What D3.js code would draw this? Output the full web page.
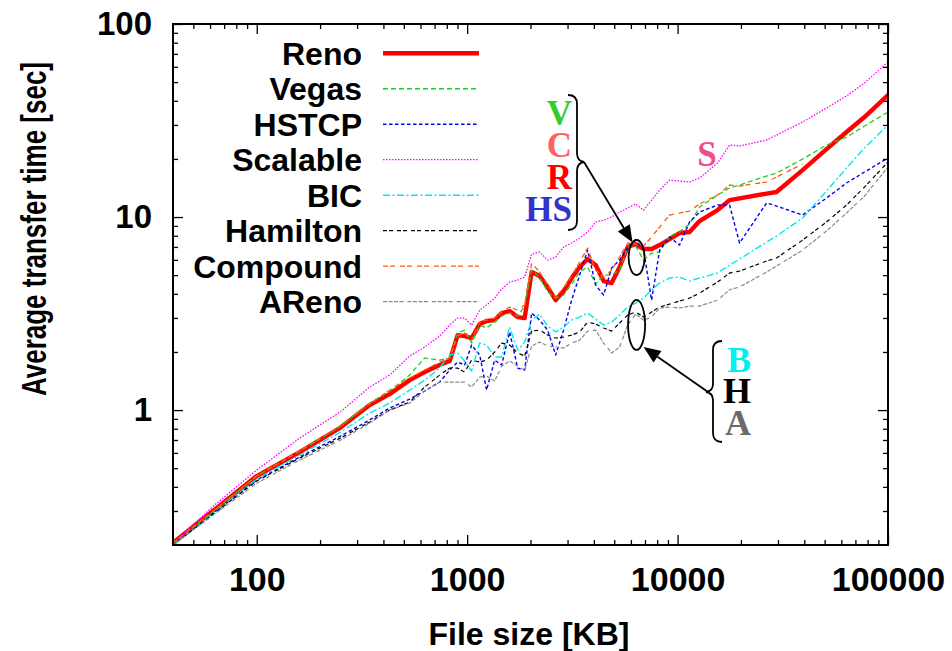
<!DOCTYPE html>
<html>
<head>
<meta charset="utf-8">
<script src="https://cdn.jsdelivr.net/npm/d3@7"></script>
<style>
  html, body { margin: 0; padding: 0; background: #fff; }
  svg { display: block; font-family: "Liberation Sans", Arial, Helvetica, sans-serif; }
</style>
</head>
<body>
<svg id="chart" width="952" height="651"></svg>
<script>
// File sizes (KB) at which the average transfer time was measured
const fileSizes = [40, 63, 100, 160, 250, 344, 428, 533, 628, 740,
  826, 901, 973, 1050, 1147, 1237, 1351, 1458, 1592, 1738,
  1876, 2025, 2210, 2413, 2634, 2874, 3137, 3424, 3737, 4078,
  4452, 4860, 5304, 5789, 6318, 6896, 7527, 8215, 9162, 10220,
  11400, 12720, 15490, 17660, 19700, 26480, 29530, 39260, 51040, 63520,
  77330, 100000];

// Average transfer time (sec) per TCP variant
const reno = [0.205, 0.305, 0.455, 0.606, 0.812, 1.061, 1.21, 1.43, 1.573, 1.711,
  1.794, 2.447, 2.417, 2.361, 2.79, 2.892, 2.925, 3.182, 3.258, 3.033,
  2.997, 5.19, 4.95, 4.338, 3.713, 4.136, 4.831, 5.508, 6.059, 5.641,
  4.66, 4.55, 5.508, 6.993, 7.247, 6.827, 6.827, 7.161, 7.691, 8.264,
  8.363, 9.535, 10.87, 12.24, 12.5, 13.22, 13.48, 17.51, 22.5, 27.56,
  32.97, 42.87];
const vegas = [0.205, 0.303, 0.455, 0.613, 0.826, 1.087, 1.254, 1.518, 1.86, 1.815,
  1.86, 2.506, 2.596, 2.224, 2.757, 2.66, 2.858, 3.069, 3.182, 3.069,
  3.458, 5.311, 4.888, 4.087, 3.804, 3.944, 4.496, 5.188, 5.508, 4.496,
  5.007, 5.007, 5.311, 6.993, 7.074, 5.984, 6.509, 6.587, 7.971, 8.363,
  9.199, 11.27, 13.0, 14.14, 14.65, 16.31, 16.9, 19.97, 23.61, 25.97,
  29.61, 34.99];
const hstcp = [0.2, 0.296, 0.434, 0.571, 0.733, 0.888, 1.024, 1.14, 1.254, 1.397,
  1.611, 1.773, 1.711, 2.172, 1.928, 1.269, 1.815, 1.711, 2.536, 1.65,
  1.611, 3.182, 2.925, 2.596, 1.928, 2.596, 3.713, 5.007, 6.742, 4.444,
  3.944, 5.443, 5.984, 6.909, 7.596, 6.742, 3.713, 6.742, 7.877, 7.161,
  9.421, 10.61, 11.54, 11.54, 7.334, 11.82, 11.4, 10.24, 12.54, 15.01,
  17.11, 20.22];
const scalable = [0.205, 0.322, 0.489, 0.716, 0.98, 1.316, 1.518, 1.905, 2.121, 2.417,
  2.757, 2.997, 2.997, 2.757, 3.296, 3.5, 3.804, 4.236, 4.605, 4.714,
  4.888, 6.432, 6.587, 5.984, 6.205, 6.993, 7.334, 7.783, 8.363, 9.421,
  9.643, 10.0, 10.61, 11.13, 11.68, 10.86, 12.24, 13.79, 15.54, 15.37,
  15.18, 15.93, 19.05, 23.61, 23.33, 25.04, 26.6, 31.06, 36.71, 42.37,
  49.46, 63.55];
const bic = [0.2, 0.296, 0.439, 0.584, 0.769, 0.965, 1.087, 1.269, 1.43, 1.65,
  1.928, 1.974, 1.794, 1.592, 2.224, 2.172, 1.882, 1.882, 2.692, 2.045,
  2.25, 2.925, 3.145, 2.724, 2.536, 2.692, 2.925, 3.033, 3.182, 2.961,
  2.757, 2.858, 3.106, 3.418, 3.584, 3.804, 4.184, 4.55, 4.831, 4.888,
  4.66, 4.831, 5.127, 5.641, 6.059, 7.422, 7.971, 9.881, 13.64, 17.94,
  22.79, 29.97];
const hamilton = [0.2, 0.293, 0.429, 0.564, 0.716, 0.867, 1.0, 1.1, 1.316, 1.518,
  1.65, 1.65, 1.573, 1.815, 1.773, 1.815, 1.998, 2.224, 2.172, 1.974,
  1.905, 2.566, 2.596, 2.447, 2.361, 2.389, 2.447, 2.536, 2.858, 2.79,
  2.66, 2.566, 2.824, 3.106, 3.22, 3.033, 3.22, 3.418, 3.541, 3.671,
  3.804, 4.038, 4.605, 5.127, 5.251, 5.916, 6.132, 7.596, 9.421, 11.54,
  14.3, 19.28];
const compound = [0.205, 0.303, 0.455, 0.613, 0.826, 1.074, 1.269, 1.465, 1.611, 1.773,
  1.86, 2.417, 2.506, 2.304, 2.858, 2.925, 2.997, 3.22, 3.418, 3.296,
  3.5, 5.776, 5.188, 4.444, 3.85, 4.287, 4.947, 5.846, 6.909, 5.311,
  4.888, 5.311, 6.205, 7.334, 7.247, 7.074, 7.877, 8.876, 10.24, 10.49,
  10.74, 11.68, 13.0, 14.65, 14.47, 15.18, 16.12, 18.82, null, null,
  null, null];
const areno = [0.2, 0.289, 0.418, 0.551, 0.699, 0.856, 1.0, 1.087, 1.254, 1.397,
  1.397, 1.397, 1.397, 1.316, 1.483, 1.501, 1.413, 1.69, 1.794, 1.69,
  1.611, 2.146, 2.25, 2.146, 2.121, 2.096, 2.224, 2.304, 2.566, 2.596,
  2.224, 1.974, 2.121, 2.757, 3.145, 2.925, 3.033, 3.378, 3.418, 3.378,
  3.458, 3.458, 3.71, 4.2, 4.34, 5.188, 5.574, 6.742, 8.463, 10.49,
  12.85, 18.16];

const seriesNames = ["Reno", "Vegas", "HSTCP", "Scalable", "BIC", "Hamilton", "Compound", "AReno"];
const seriesValues = [reno, vegas, hstcp, scalable, bic, hamilton, compound, areno];

// Axis ticks
const xMajor = [100, 1000, 10000, 100000];
const xTickLabels = ["100", "1000", "10000", "100000"];
const yMajor = [1, 10, 100];
const yTickLabels = ["1", "10", "100"];

// ---- styling ----
const styles = {
  Reno:     { color: "#ff0000", width: 4.4, dash: null },
  Vegas:    { color: "#22cc22", width: 1.3, dash: "5,3" },
  HSTCP:    { color: "#0000f0", width: 1.4, dash: "3.5,2.5" },
  Scalable: { color: "#ff00ff", width: 1.3, dash: "1.5,1.5" },
  BIC:      { color: "#00eaea", width: 1.4, dash: "7,2.5,2,2.5" },
  Hamilton: { color: "#000000", width: 1.2, dash: "4,2,4,4" },
  Compound: { color: "#ff5a10", width: 1.3, dash: "5,2,5,5" },
  AReno:    { color: "#8a8a8a", width: 1.2, dash: "4,1.5,4,1.5,4,1.5,4,4" }
};

const plot = { left: 173, right: 888, top: 24, bottom: 545 };
const svg = d3.select("#chart");

const x = d3.scaleLog().domain([40, 100000]).range([plot.left, plot.right]);
const y = d3.scaleLog().domain([0.2, 100]).range([plot.bottom, plot.top]);

// minor tick positions: 2..9 times every power of ten inside the domain
function minorTicks(scale) {
  const [lo, hi] = scale.domain();
  const out = [];
  for (let p = Math.floor(Math.log10(lo)); p <= Math.ceil(Math.log10(hi)); p++) {
    for (let m = 2; m <= 9; m++) {
      const v = m * Math.pow(10, p);
      if (v > lo * 1.0001 && v < hi * 0.9999) out.push(v);
    }
  }
  return out;
}
const xMinor = minorTicks(x);
const yMinor = minorTicks(y);

svg.append("defs").append("clipPath").attr("id", "plotClip")
  .append("rect")
  .attr("x", plot.left).attr("y", plot.top)
  .attr("width", plot.right - plot.left).attr("height", plot.bottom - plot.top);

// ---- axes (ticks on all four sides, pointing inward) ----
function styleAxis(size) {
  return g => {
    g.select(".domain").remove();
    g.selectAll(".tick line").attr("stroke", "#000").attr("stroke-width", 1.3);
    g.selectAll(".tick text").attr("fill", "#000").attr("font-size", size)
      .attr("font-weight", "bold")
      .attr("font-family", "'Liberation Sans', Arial, sans-serif");
  };
}

svg.append("g").attr("transform", `translate(0,${plot.bottom})`)
  .call(d3.axisBottom(x).tickValues(xMajor).tickFormat((d, i) => xTickLabels[i])
    .tickSizeInner(-10).tickSizeOuter(0).tickPadding(22))
  .call(styleAxis(34));
svg.append("g").attr("transform", `translate(0,${plot.bottom})`)
  .call(d3.axisBottom(x).tickValues(xMinor).tickFormat("").tickSizeInner(-5).tickSizeOuter(0))
  .call(styleAxis(34));
svg.append("g").attr("transform", `translate(0,${plot.top})`)
  .call(d3.axisTop(x).tickValues(xMajor).tickFormat("").tickSizeInner(-10).tickSizeOuter(0))
  .call(styleAxis(34));
svg.append("g").attr("transform", `translate(0,${plot.top})`)
  .call(d3.axisTop(x).tickValues(xMinor).tickFormat("").tickSizeInner(-5).tickSizeOuter(0))
  .call(styleAxis(34));

svg.append("g").attr("transform", `translate(${plot.left},0)`)
  .call(d3.axisLeft(y).tickValues(yMajor).tickFormat((d, i) => yTickLabels[i])
    .tickSizeInner(-10).tickSizeOuter(0).tickPadding(21))
  .call(styleAxis(33));
svg.append("g").attr("transform", `translate(${plot.left},0)`)
  .call(d3.axisLeft(y).tickValues(yMinor).tickFormat("").tickSizeInner(-5).tickSizeOuter(0))
  .call(styleAxis(33));
svg.append("g").attr("transform", `translate(${plot.right},0)`)
  .call(d3.axisRight(y).tickValues(yMajor).tickFormat("").tickSizeInner(-10).tickSizeOuter(0))
  .call(styleAxis(33));
svg.append("g").attr("transform", `translate(${plot.right},0)`)
  .call(d3.axisRight(y).tickValues(yMinor).tickFormat("").tickSizeInner(-5).tickSizeOuter(0))
  .call(styleAxis(33));

// ---- data lines ----
const line = d3.line()
  .defined(d => d[1] != null)
  .x(d => x(d[0]))
  .y(d => y(d[1]));

const lines = svg.append("g").attr("clip-path", "url(#plotClip)");
seriesNames.forEach((name, i) => {
  const st = styles[name];
  lines.append("path")
    .datum(fileSizes.map((f, j) => [f, seriesValues[i][j]]))
    .attr("d", line)
    .attr("fill", "none")
    .attr("stroke", st.color)
    .attr("stroke-width", st.width)
    .attr("stroke-dasharray", st.dash)
    .attr("stroke-linejoin", "round")
    .attr("stroke-linecap", name === "Reno" ? "round" : "butt");
});

// frame
svg.append("rect")
  .attr("x", plot.left).attr("y", plot.top)
  .attr("width", plot.right - plot.left).attr("height", plot.bottom - plot.top)
  .attr("fill", "none").attr("stroke", "#000").attr("stroke-width", 2);

// ---- legend ----
const legend = svg.append("g");
seriesNames.forEach((name, i) => {
  const st = styles[name];
  const base = 65 + i * 35.47;
  legend.append("text")
    .attr("x", 362).attr("y", base)
    .attr("text-anchor", "end")
    .attr("font-size", 32)
    .attr("font-weight", "bold")
    .attr("fill", "#000")
    .text(name);
  legend.append("line")
    .attr("x1", 383).attr("x2", 479)
    .attr("y1", base - 11.7).attr("y2", base - 11.7)
    .attr("stroke", st.color)
    .attr("stroke-width", st.width)
    .attr("stroke-dasharray", st.dash);
});

// ---- axis titles ----
svg.append("text")
  .attr("x", 529).attr("y", 645)
  .attr("text-anchor", "middle")
  .attr("font-size", 32)
  .attr("font-weight", "bold")
  .attr("fill", "#000")
  .text("File size [KB]");

// condensed vertical title
svg.append("text")
  .attr("transform", "translate(46,229) rotate(-90) scale(0.722,1)")
  .attr("text-anchor", "middle")
  .attr("font-size", 36)
  .attr("font-weight", "bold")
  .attr("fill", "#000")
  .text("Average transfer time [sec]");

// ---- annotations ----
const ann = svg.append("g").attr("font-family", "'Liberation Serif', 'Times New Roman', serif")
  .attr("font-weight", "bold").attr("font-size", 35);

// group with the larger transfer times
[["V", "#33cc33", 125], ["C", "#ff6060", 157], ["R", "#ff0000", 189], ["HS", "#3333cc", 221]]
  .forEach(([t, c, b]) => ann.append("text").attr("x", 572).attr("y", b)
    .attr("text-anchor", "end").attr("fill", c).text(t));

// group with the smaller transfer times
[["B", "#00f0f0", 372], ["H", "#000000", 403], ["A", "#6a6a6a", 435]]
  .forEach(([t, c, b]) => ann.append("text").attr("x", 751).attr("y", b)
    .attr("text-anchor", "end").attr("font-size", 36).attr("fill", c).text(t));

// Scalable label
ann.append("text").attr("x", 707).attr("y", 166).attr("text-anchor", "middle")
  .attr("fill", "#f24a8a").text("S");

const marks = svg.append("g").attr("fill", "none").attr("stroke", "#000").attr("stroke-width", 1.8);

// braces
marks.append("path")
  .attr("d", "M568,95 Q577,95 577,104 L577,153 Q577,161 584,162 Q577,163 577,171 L577,221 Q577,230 568,230");
marks.append("path")
  .attr("d", "M722,341 Q713,341 713,350 L713,384 Q713,391 706,392 Q713,393 713,400 L713,433 Q713,442 722,442");

// ellipses around the highlighted region near 6.4 MB
const cxVal = 6385;
marks.append("ellipse").attr("cx", x(cxVal)).attr("cy", y(6.17)).attr("rx", 8).attr("ry", 17.5);
marks.append("ellipse").attr("cx", x(cxVal)).attr("cy", y(2.76)).attr("rx", 8.5).attr("ry", 25);

// arrows from braces to ellipses
function arrow(x1, y1, x2, y2) {
  const ang = Math.atan2(y2 - y1, x2 - x1);
  const len = 17, half = 7;
  const bx = x2 - len * Math.cos(ang), by = y2 - len * Math.sin(ang);
  marks.append("line").attr("x1", x1).attr("y1", y1).attr("x2", bx).attr("y2", by);
  const px = -Math.sin(ang) * half, py = Math.cos(ang) * half;
  svg.append("path")
    .attr("d", `M${x2},${y2} L${bx + px},${by + py} L${bx - px},${by - py} Z`)
    .attr("fill", "#000");
}
arrow(584, 162, x(cxVal) - 4, y(6.17) - 15);
arrow(708, 392, x(cxVal) + 7, y(2.76) + 22);
</script>
</body>
</html>
